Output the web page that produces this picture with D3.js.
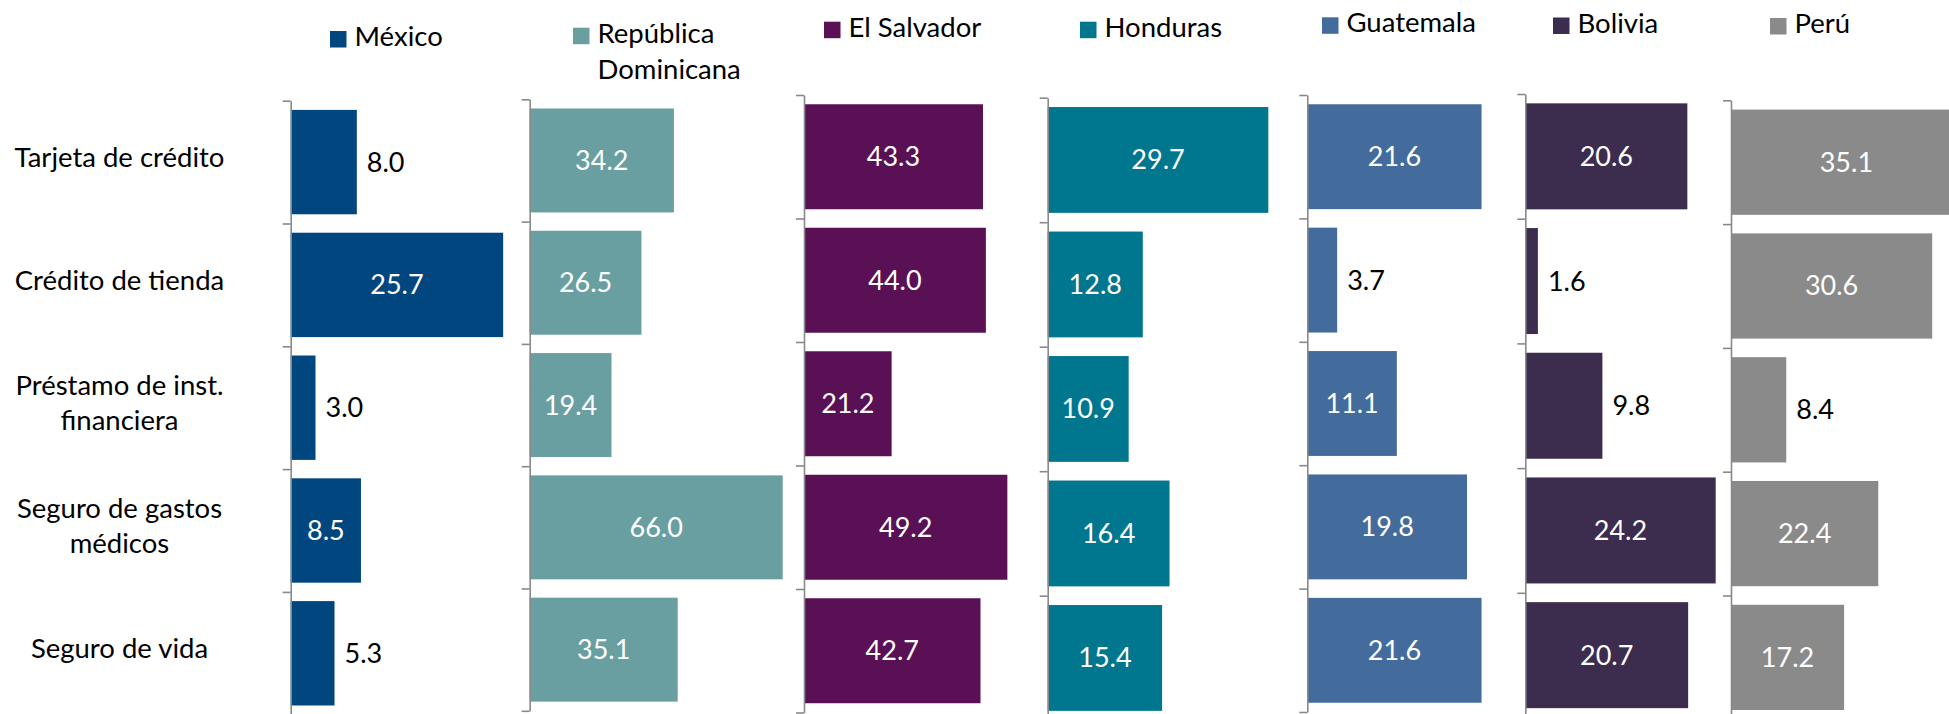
<!DOCTYPE html>
<html>
<head>
<meta charset="utf-8">
<script src="https://cdn.jsdelivr.net/npm/d3@7"></script>
<style>
  body { margin: 0; background: #fff; }
  svg { display: block; font-family: Lato, "Open Sans", sans-serif; }
</style>
</head>
<body>
<div id="chart"></div>
<script>
// data (%)
const categories = ["Tarjeta de crédito", "Crédito de tienda", "Préstamo de inst. financiera", "Seguro de gastos médicos", "Seguro de vida"];
const countries = ["México", "República Dominicana", "El Salvador", "Honduras", "Guatemala", "Bolivia", "Perú"];
const mexico = [8.0, 25.7, 3.0, 8.5, 5.3];
const repDominicana = [34.2, 26.5, 19.4, 66.0, 35.1];
const elSalvador = [43.3, 44.0, 21.2, 49.2, 42.7];
const honduras = [29.7, 12.8, 10.9, 16.4, 15.4];
const guatemala = [21.6, 3.7, 11.1, 19.8, 21.6];
const bolivia = [20.6, 1.6, 9.8, 24.2, 20.7];
const peru = [35.1, 30.6, 8.4, 22.4, 17.2];
const axisMax = [30, 60, 60, 35, 30, 30, 40];
// value labels that sit past the end of the bar (category index per country)
const outsideLabels = [[0, 2, 4], [], [], [], [1], [1, 2], [2]];

const series = [mexico, repDominicana, elSalvador, honduras, guatemala, bolivia, peru];
const colors = ["#02467f", "#6a9fa2", "#5a1054", "#00778f", "#436c9c", "#3c2c4e", "#8a8a8a"];

const width = 1949, height = 714;
const fontSize = 27.5;
const valueSize = 27;

// every small chart was pasted a bit differently on the slide
const panels = [
    {x: 290.7, top: 100.7, step: 122.8, w: 248, legX: 330, legY: 46},
    {x: 529.7, top: 99.3, step: 122.3, w: 253, legX: 573, legY: 42.7},
    {x: 804, top: 95, step: 123.5, w: 248, legX: 824, legY: 36.7},
    {x: 1047.7, top: 97.7, step: 124.5, w: 260, legX: 1080, legY: 36.7},
    {x: 1307.3, top: 95, step: 123.4, w: 242, legX: 1322, legY: 32.3},
    {x: 1525.3, top: 94, step: 124.7, w: 236, legX: 1553, legY: 32.5},
    {x: 1731, top: 100.3, step: 123.8, w: 263, legX: 1770, legY: 33}
];

var svg = d3.select("#chart")
    .append("svg")
    .attr("width", width)
    .attr("height", height);

function wrap(sel, maxW, lineH, centred) {
    sel.each(function() {
        var t = d3.select(this);
        var words = t.text().split(" ");
        var x = t.attr("x");
        t.text(null);
        var line = [];
        var tspan = t.append("tspan").attr("x", x);
        var lines = [tspan];
        words.forEach(function(w) {
            line.push(w);
            tspan.text(line.join(" "));
            if (tspan.node().getComputedTextLength() > maxW && line.length > 1) {
                line.pop();
                tspan.text(line.join(" "));
                line = [w];
                tspan = t.append("tspan").attr("x", x).text(w);
                lines.push(tspan);
            }
        });
        var first = centred ? -(lines.length - 1) * lineH / 2 : 0;
        lines.forEach(function(ts, i) {
            ts.attr("dy", i === 0 ? first : lineH);
        });
    });
}

panels.forEach(function(p, i) {
    var data = series[i];

    var x = d3.scaleLinear()
        .domain([0, axisMax[i]])
        .range([0, p.w])
        .clamp(true);

    var y = d3.scaleBand()
        .domain(categories)
        .range([p.top, p.top + categories.length * p.step])
        .paddingInner(0.15)
        .paddingOuter(0.075);

    var g = svg.append("g")
        .attr("transform", "translate(" + p.x + ",0)");

    g.selectAll("rect.bar")
        .data(data)
        .enter()
        .append("rect")
        .attr("class", "bar")
        .attr("x", 0)
        .attr("y", function(d, j) { return y(categories[j]); })
        .attr("width", function(d) { return x(d); })
        .attr("height", y.bandwidth())
        .attr("fill", colors[i]);

    g.selectAll("text.val")
        .data(data)
        .enter()
        .append("text")
        .attr("class", "val")
        .attr("font-size", valueSize)
        .attr("dy", "0.35em")
        .attr("y", function(d, j) { return y(categories[j]) + y.bandwidth() / 2; })
        .attr("x", function(d, j) {
            return outsideLabels[i].includes(j) ? x(d) + 10 : x(d) / 2;
        })
        .attr("text-anchor", function(d, j) { return outsideLabels[i].includes(j) ? "start" : "middle"; })
        .attr("fill", function(d, j) { return outsideLabels[i].includes(j) ? "#000" : "#fff"; })
        .text(function(d) { return d3.format(".1f")(d); });

    // category axis: ticks at the category boundaries
    var edges = d3.scaleLinear()
        .domain([0, categories.length])
        .range([p.top, p.top + categories.length * p.step]);

    var axis = g.append("g")
        .call(d3.axisLeft(edges)
            .tickValues(d3.range(categories.length + 1))
            .tickSize(8)
            .tickSizeOuter(0)
            .tickFormat(""));
    axis.selectAll("path, line")
        .attr("stroke", "#898989")
        .attr("stroke-width", 1.6);

    // legend entry above each small chart
    svg.append("rect")
        .attr("x", p.legX)
        .attr("y", p.legY - 15)
        .attr("width", 16.5)
        .attr("height", 16.5)
        .attr("fill", colors[i]);

    svg.append("text")
        .attr("x", p.legX + 24.5)
        .attr("y", p.legY)
        .attr("font-size", fontSize)
        .attr("fill", "#000")
        .text(countries[i])
        .call(wrap, 200, 36, false);
});

// category names, lined up with the first chart
var yCat = d3.scaleBand()
    .domain(categories)
    .range([panels[0].top, panels[0].top + categories.length * panels[0].step]);

svg.append("g")
    .selectAll("text")
    .data(categories)
    .enter()
    .append("text")
    .attr("x", 119.5)
    .attr("y", function(d) { return yCat(d) + yCat.bandwidth() / 2 + 5; })
    .attr("text-anchor", "middle")
    .attr("font-size", fontSize)
    .attr("fill", "#000")
    .text(function(d) { return d; })
    .call(wrap, 235, 35, true);
</script>
</body>
</html>
